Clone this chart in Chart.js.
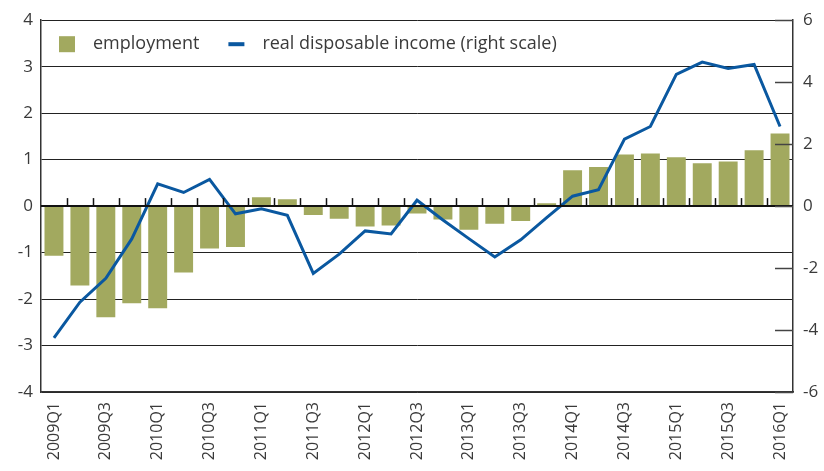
<!DOCTYPE html>
<html>
<head>
<meta charset="utf-8">
<script src="https://cdn.jsdelivr.net/npm/chart.js@4.4.1/dist/chart.umd.min.js"></script>
<style>
  html, body { margin:0; padding:0; background:#fff; }
  #wrap { width:824px; height:471px; }
</style>
</head>
<body>
<div id="wrap"><canvas id="chart" width="824" height="471"></canvas></div>
<script>
// Data
const quarters = [
  '2009Q1','2009Q2','2009Q3','2009Q4','2010Q1','2010Q2','2010Q3','2010Q4',
  '2011Q1','2011Q2','2011Q3','2011Q4','2012Q1','2012Q2','2012Q3','2012Q4',
  '2013Q1','2013Q2','2013Q3','2013Q4','2014Q1','2014Q2','2014Q3','2014Q4',
  '2015Q1','2015Q2','2015Q3','2015Q4','2016Q1'
];
const employment = [
  -1.07, -1.71, -2.39, -2.09, -2.20, -1.43, -0.91, -0.88,
  0.19, 0.15, -0.19, -0.27, -0.44, -0.42, -0.16, -0.29,
  -0.51, -0.38, -0.32, 0.06, 0.77, 0.84, 1.11, 1.13,
  1.05, 0.92, 0.96, 1.20, 1.56
];
const income = [
  -4.25, -3.10, -2.33, -1.06, 0.72, 0.44, 0.86, -0.25,
  -0.09, -0.30, -2.17, -1.55, -0.80, -0.90, 0.19, -0.45,
  -1.05, -1.64, -1.09, -0.37, 0.32, 0.53, 2.16, 2.57,
  4.25, 4.65, 4.44, 4.57, 2.57
];
const leftTicks = [-4, -3, -2, -1, 0, 1, 2, 3, 4];
const rightTicks = [-6, -4, -2, 0, 2, 4, 6];

const barColor = '#a2a95f';
const lineColor = '#0a58a0';
const textColor = '#3a3a3a';
const axisColor = '#333';
const FONT = '"Open Sans", "Noto Sans", sans-serif';

// Small extras: zero-line ticks between bars, inner right ticks, legend inside plot
const extras = {
  id: 'extras',
  afterDatasetsDraw(chart){
    const {ctx, chartArea:a, scales:{x, y, y1}} = chart;
    ctx.save();
    // zero line
    const y0 = y.getPixelForValue(0);
    ctx.strokeStyle = '#111'; ctx.lineWidth = 2;
    ctx.beginPath(); ctx.moveTo(a.left, y0); ctx.lineTo(a.right, y0); ctx.stroke();
    // category-boundary ticks on zero line
    ctx.lineWidth = 1.5;
    for(let i=1;i<quarters.length;i++){
      const px = Math.round((x.getPixelForValue(i-1)+x.getPixelForValue(i))/2)+0.5;
      ctx.beginPath(); ctx.moveTo(px, y0); ctx.lineTo(px, y0-8); ctx.stroke();
    }
    // right inner ticks
    ctx.strokeStyle = '#444'; ctx.lineWidth = 1.5;
    rightTicks.forEach(v=>{
      const py = Math.round(y1.getPixelForValue(v))+0.5;
      ctx.beginPath(); ctx.moveTo(a.right-18, py); ctx.lineTo(a.right, py); ctx.stroke();
    });
    ctx.restore();
  },
  afterDraw(chart){
    const {ctx, chartArea:a} = chart;
    const bars = chart.data.datasets.find(d=>d.type==='bar');
    const line = chart.data.datasets.find(d=>d.type==='line');
    ctx.save();
    ctx.font = `18px ${FONT}`;
    ctx.textBaseline = 'middle';
    const cy = a.top + 24;
    let lx = a.left + 18;
    ctx.fillStyle = bars.backgroundColor;
    ctx.fillRect(lx, cy-8, 16, 16);
    ctx.fillStyle = textColor;
    ctx.fillText(bars.label, lx+34, cy);
    lx = lx + 34 + ctx.measureText(bars.label).width + 29;
    ctx.fillStyle = line.borderColor;
    ctx.fillRect(lx, cy-2, 16, 4);
    ctx.fillStyle = textColor;
    ctx.fillText(line.label, lx+34, cy);
    ctx.restore();
  }
};

new Chart(document.getElementById('chart'), {
  data: {
    labels: quarters,
    datasets: [
      { type:'line', label:'real disposable income (right scale)', data:income, yAxisID:'y1',
        borderColor:lineColor, backgroundColor:lineColor, borderWidth:3, pointRadius:0,
        tension:0, order:0 },
      { type:'bar', label:'employment', data:employment, yAxisID:'y',
        backgroundColor:barColor, categoryPercentage:1, barPercentage:0.73, order:1 }
    ]
  },
  options: {
    responsive:false, animation:false,
    layout:{ padding:{ top:18, left:0, right:0, bottom:0 } },
    plugins:{ legend:{display:false}, tooltip:{enabled:false} },
    scales:{
      x:{
        offset:true,
        grid:{ display:false, drawTicks:false },
        border:{ display:true, color:axisColor, width:1.5 },
        ticks:{
          autoSkip:false, minRotation:90, maxRotation:90, padding:10,
          color:textColor, font:{ family:FONT, size:16 },
          callback:(v,i)=> i%2===0 ? quarters[i] : ''
        },
        afterFit:(s)=>{ s.height = 79; }
      },
      y:{
        position:'left', min:-4, max:4,
        afterBuildTicks:(s)=>{ s.ticks = leftTicks.map(v=>({value:v})); },
        grid:{ color:'#222', lineWidth:1, drawTicks:false },
        border:{ display:true, color:axisColor, width:1.5 },
        ticks:{ color:textColor, font:{ family:FONT, size:17 }, padding:8, callback:(v)=>String(v) },
        afterFit:(s)=>{ s.width = 41; }
      },
      y1:{
        position:'right', min:-6, max:6,
        afterBuildTicks:(s)=>{ s.ticks = rightTicks.map(v=>({value:v})); },
        grid:{ drawOnChartArea:false, drawTicks:false },
        border:{ display:true, color:axisColor, width:1.5 },
        ticks:{ color:textColor, font:{ family:FONT, size:17 }, padding:10, callback:(v)=>String(v) },
        afterFit:(s)=>{ s.width = 31; }
      }
    }
  },
  plugins:[extras]
});
</script>
</body>
</html>
